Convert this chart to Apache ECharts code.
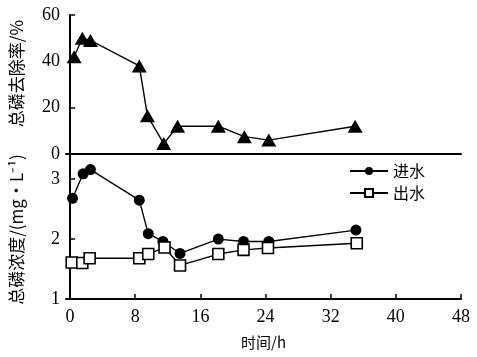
<!DOCTYPE html>
<html><head><meta charset="utf-8">
<script src="https://cdn.jsdelivr.net/npm/echarts@6/dist/echarts.min.js"></script>
<style>html,body{margin:0;padding:0;background:#fff}#c{width:477px;height:357px}</style>
</head><body><div id="c"></div>
<script>
// Data
const removalTime = [0.5, 1.5, 2.5, 8.5, 9.5, 11.5, 13.2, 18.2, 21.4, 24.4, 35];
const removal = [42, 50, 49, 38, 16.5, 4.5, 12, 12, 7.5, 6, 12];
const inTime = [0.3, 1.6, 2.5, 8.5, 9.6, 11.4, 13.5, 18.2, 21.3, 24.4, 35.1];
const inflow = [2.68, 3.09, 3.16, 2.65, 2.09, 1.96, 1.76, 2.0, 1.96, 1.96, 2.15];
const outTime = [0.2, 1.5, 2.4, 8.5, 9.6, 11.6, 13.5, 18.2, 21.3, 24.3, 35.2];
const outflow = [1.61, 1.6, 1.68, 1.68, 1.75, 1.86, 1.56, 1.75, 1.82, 1.85, 1.93];
const xTicks = [0, 8, 16, 24, 32, 40, 48];
const topTicks = [0, 20, 40, 60];
const bottomTicks = [1, 2, 3];
const seriesNames = ['进水', '出水'];
const xName = '时间/h';
const topName = '总磷去除率/%';
const bottomName = '总磷浓度/(mg·L⁻¹)';

const zip = (a, b) => a.map((v, i) => [v, b[i]]);
const numFont = "'Liberation Serif','Noto Sans CJK SC',serif";
const cjkFont = "'Noto Sans CJK SC','Liberation Serif',sans-serif";
const black = '#000';

const chart = echarts.init(document.getElementById('c'));
chart.setOption({
  animation: false,
  backgroundColor: '#fff',
  grid: [
    {left: 63, right: 16, top: 15, height: 139},
    {left: 63, right: 16, top: 154, height: 145}
  ],
  legend: {
    orient: 'vertical', left: 344, top: 158, itemWidth: 38, itemHeight: 10, itemGap: 6,
    textStyle: {fontFamily: cjkFont, fontSize: 16, color: black},
    data: seriesNames
  },
  xAxis: [
    {gridIndex: 0, type: 'value', min: -0.5, max: 48,
      axisLine: {show: true, lineStyle: {color: black, width: 2}},
      axisTick: {show: false}, axisLabel: {show: false}, splitLine: {show: false}},
    {gridIndex: 1, type: 'value', min: -0.5, max: 48,
      name: xName, nameLocation: 'middle', nameGap: 36,
      nameTextStyle: {fontFamily: cjkFont, fontSize: 15, color: black},
      axisLine: {show: true, lineStyle: {color: black, width: 2}},
      axisTick: {show: true, inside: true, length: 5, customValues: xTicks, lineStyle: {color: black, width: 1.5}},
      axisLabel: {show: true, customValues: xTicks, margin: 9, fontFamily: numFont, fontSize: 18, color: black},
      splitLine: {show: false}}
  ],
  yAxis: [
    {gridIndex: 0, type: 'value', min: 0, max: 60,
      name: topName, nameLocation: 'middle', nameGap: 41, nameRotate: 90,
      nameTextStyle: {fontFamily: cjkFont, fontSize: 17, color: black, padding: [0, 0, 0, 22]},
      axisLine: {show: true, lineStyle: {color: black, width: 2}},
      axisTick: {show: true, inside: true, length: 5, customValues: topTicks, lineStyle: {color: black, width: 1.5}},
      axisLabel: {show: true, customValues: topTicks, margin: 6, fontFamily: numFont, fontSize: 18, color: black},
      splitLine: {show: false}},
    {gridIndex: 1, type: 'value', min: 1, max: 3.42,
      name: bottomName, nameLocation: 'middle', nameGap: 41, nameRotate: 90,
      nameTextStyle: {fontFamily: cjkFont, fontSize: 17, color: black, padding: [0, 6, 0, 0]},
      axisLine: {show: true, lineStyle: {color: black, width: 2}},
      axisTick: {show: true, inside: true, length: 5, customValues: bottomTicks, lineStyle: {color: black, width: 1.5}},
      axisLabel: {show: true, customValues: bottomTicks, margin: 6, fontFamily: numFont, fontSize: 18, color: black},
      splitLine: {show: false}}
  ],
  series: [
    {type: 'line', name: 'removal', xAxisIndex: 0, yAxisIndex: 0, data: zip(removalTime, removal),
      symbol: 'triangle', symbolSize: [15, 13], clip: false,
      itemStyle: {color: black}, lineStyle: {color: black, width: 1.4}},
    {type: 'line', name: seriesNames[0], xAxisIndex: 1, yAxisIndex: 1, data: zip(inTime, inflow),
      symbol: 'circle', symbolSize: 11, clip: false,
      itemStyle: {color: black}, lineStyle: {color: black, width: 1.4}},
    {type: 'line', name: seriesNames[1], xAxisIndex: 1, yAxisIndex: 1, data: zip(outTime, outflow),
      symbol: 'rect', symbolSize: 11, clip: false,
      itemStyle: {color: '#fff', borderColor: black, borderWidth: 1.6}, lineStyle: {color: black, width: 1.4}}
  ]
});
</script></body></html>
